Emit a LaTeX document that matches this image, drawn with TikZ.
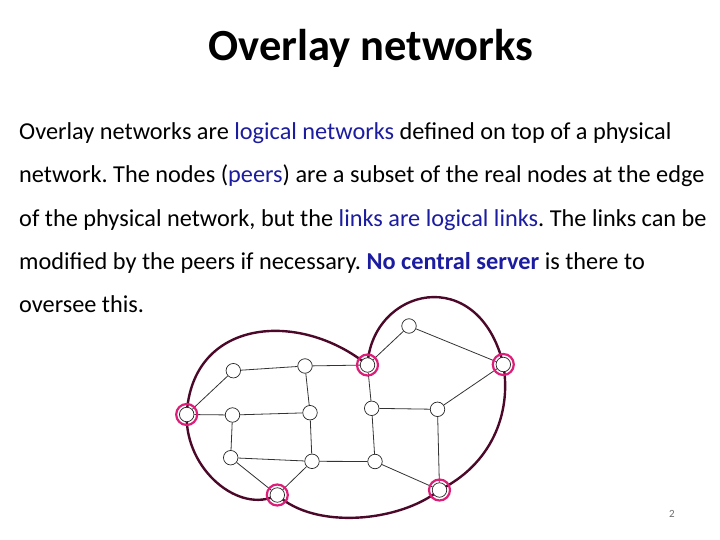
\documentclass[tikz,border=0pt]{standalone}
\usepackage{fontspec}
\setmainfont{Carlito}
\usepackage{xcolor}
\usetikzlibrary{positioning, backgrounds}
\definecolor{linkblue}{RGB}{28, 28, 160}
\definecolor{overlayred}{RGB}{75, 8, 40}
\definecolor{peerpink}{RGB}{220, 30, 120}
\definecolor{pagegray}{RGB}{110, 110, 110}
\frenchspacing

\begin{document}
\begin{tikzpicture}[x=1pt, y=-1pt]
  % Styles
  \tikzstyle{host} = [circle, draw=black!85, line width=0.7pt, fill=white, minimum size=14.5pt, inner sep=0pt]
  \tikzstyle{link} = [draw=black!80, line width=0.8pt]
  \tikzstyle{ring} = [draw=peerpink, line width=2.2pt]
  \tikzstyle{overlay} = [draw=overlayred, line width=2.4pt]
  \tikzstyle{textline} = [anchor=base west, inner sep=0pt, font=\fontsize{24.3}{28}\selectfont]

  \useasboundingbox (0,0) rectangle (720,540);

  % Title and text
  \node (title) at (371,61) [anchor=base, inner sep=0pt, font=\fontsize{44.5}{52}\selectfont\bfseries] {Overlay networks};
  \node (line1) at (19,140) [textline] {Overlay networks are \textcolor{linkblue}{logical networks} defined on top of a physical};
  \node (line2) at (19,183) [textline] {network. The nodes (\textcolor{linkblue}{peers}) are a subset of the real nodes at the edge};
  \node (line3) at (19,226) [textline] {of the physical network, but the \textcolor{linkblue}{links are logical links}. The links can be};
  \node (line4) at (19,269) [textline] {modified by the peers if necessary. \textcolor{linkblue}{\bfseries No central server} is there to};
  \node (line5) at (19,312) [textline] {oversee this.};

  % Peers
  \node (peerW) at (186.7,414.5) [host] {};
  \node (peerN) at (367.5,365) [host] {};
  \node (peerE) at (503.3,364.5) [host] {};
  \node (peerS) at (277.3,495) [host] {};
  \node (peerSE) at (439.5,490) [host] {};

  % Physical nodes
  \node (h1) at (233.3,370.7) [host] {};
  \node (h2) at (305,366) [host] {};
  \node (h3) at (232.5,415) [host] {};
  \node (h4) at (310,412.7) [host] {};
  \node (h5) at (230.7,457.7) [host] {};
  \node (h6) at (312,461.3) [host] {};
  \node (h7) at (409,326) [host] {};
  \node (h8) at (371.7,408.3) [host] {};
  \node (h9) at (437.5,409.3) [host] {};
  \node (h10) at (375,461.5) [host] {};

  \foreach \p in {peerW, peerN, peerE, peerS, peerSE}
    \draw [ring] (\p) circle (10.5);

  \begin{scope}[on background layer]
    % Links
    \foreach \a/\b in {peerW/h1, peerW/h3, h1/h2, h2/peerN, h2/h4, peerN/h7, peerN/h8,
                       h7/peerE, peerE/h9, h3/h4, h3/h5, h4/h6, h8/h9, h8/h10,
                       h9/peerSE, h5/h6, h5/peerS, h6/peerS, h6/h10, h10/peerSE}
      \draw [link] (\a) -- (\b);

    % Overlay boundary
    \draw [overlay] (peerW.center) .. controls (192,318) and (300,310) .. (peerN.center)
      .. controls (372,288) and (478,262) .. (peerE.center)
      .. controls (512,415) and (490,465) .. (peerSE.center)
      .. controls (400,522) and (315,530) .. (peerS.center)
      .. controls (240,515) and (185,470) .. (peerW.center);
  \end{scope}

  % Page number
  \node (page) at (672,514) [font=\fontsize{11}{13}\selectfont, text=pagegray, inner sep=0pt] {2};
\end{tikzpicture}
\end{document}
